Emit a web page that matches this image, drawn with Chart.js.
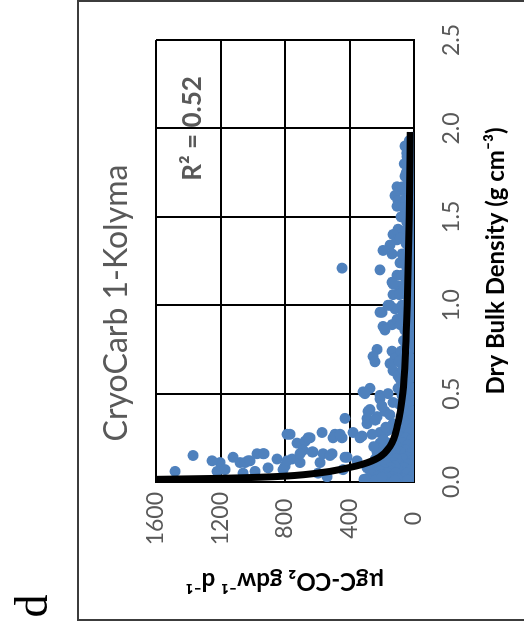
<!DOCTYPE html>
<html>
<head>
<meta charset="utf-8">
<title>CryoCarb 1-Kolyma</title>
<script src="https://cdn.jsdelivr.net/npm/chart.js@4.4.1/dist/chart.umd.min.js"></script>
<style>
  html, body { margin: 0; padding: 0; background: #fff; overflow: hidden; }
  /* panel is laid out landscape, then turned a quarter turn to the left */
  #panel {
    position: absolute; left: 0; top: 0;
    width: 633px; height: 524px;
    transform-origin: 0 0;
    transform: translate(0, 633px) rotate(-90deg);
  }
</style>
</head>
<body>
<div id="panel"><canvas id="grafico" width="633" height="524"></canvas></div>
<script>
// samples: dry bulk density (g cm-3)
const bulkDensity = [
  // scattered upper samples
  1.90, 1.91, 1.84, 1.78, 1.73, 1.67, 1.65, 1.62, 1.59, 1.56,
  1.56, 1.52, 1.43, 1.40, 1.37, 1.34, 1.31, 1.29, 1.29, 1.24,
  1.20, 1.17, 1.13, 1.11, 1.06, 1.07, 1.21, 1.12,
  // middle
  1.00, 0.96, 0.98, 1.00, 0.89, 0.88, 0.92, 0.96, 1.00, 0.86,
  0.75, 0.71, 0.68, 0.74, 0.70, 0.67, 0.63, 0.60, 0.51, 0.53,
  0.49, 0.50, 0.53, 0.47, 0.41, 0.36, 0.36,
  // low density spread
  0.28, 0.27, 0.22, 0.23, 0.25, 0.27, 0.25, 0.28, 0.26, 0.28,
  0.22, 0.18, 0.17, 0.16, 0.14, 0.12, 0.13, 0.13, 0.16, 0.16,
  0.12, 0.11, 0.14, 0.11, 0.12, 0.15, 0.06, 0.06, 0.06, 0.08,
  0.09, 0.11, 0.11, 0.03, 0.03, 0.01, 0.01, 0.03, 0.07, 0.11,
  0.12, 0.16, 0.05, 0.27, 0.12, 0.25, 0.25, 0.27, 0.25, 0.33,
  0.40, 0.37, 0.50, 0.16, 0.17, 0.16, 0.15, 0.14, 0.07, 0.05,
  0.07, 0.08, 0.03, 0.01, 0.03, 0.08, 0.14, 0.19, 0.23, 0.29,
  0.35, 0.33, 0.29, 0.22, 0.16, 0.14,
  // close to zero respiration
  1.95, 1.93, 1.92, 1.89, 1.87, 1.86, 1.83, 1.81, 1.80, 1.78,
  1.76, 1.75, 1.72, 1.70, 1.69, 1.67, 1.66, 1.64, 1.62, 1.61,
  1.60, 1.58, 1.57, 1.55, 1.54, 1.53, 1.51, 1.50, 1.48, 1.47,
  1.46, 1.44, 1.42, 1.41, 1.39, 1.38, 1.36, 1.35, 1.33, 1.32,
  1.30, 1.28, 1.27, 1.26, 1.24, 1.23, 1.21, 1.20, 1.18, 1.17,
  1.15, 1.14, 1.12, 1.11, 1.09, 1.08, 1.06, 1.05, 1.03, 1.02,
  1.00, 0.98, 0.97, 0.95, 0.94, 0.92, 0.91, 0.89, 0.88, 0.86,
  0.85, 0.83, 0.82, 0.80, 0.79, 0.77, 0.76, 0.74, 0.73, 0.71,
  0.70, 0.68, 0.67, 0.65, 0.64, 0.62, 0.61, 0.59, 0.58, 0.56,
  0.55, 0.53, 0.52, 0.50, 0.49, 0.47, 0.46, 0.44, 0.43, 0.41,
  0.40, 0.38, 0.37, 0.35, 0.34, 0.32, 0.31, 0.29, 0.28, 0.26,
  0.25, 0.24, 0.22, 0.21, 0.20, 0.19, 0.18, 0.17, 0.16, 0.15,
  0.14, 0.13, 0.12, 0.11, 0.10, 0.09, 0.08, 0.07, 0.06, 0.05,
  0.04, 0.03, 0.02, 0.01,
  // dense low density cluster
  0.22, 0.21, 0.20, 0.19, 0.18, 0.17, 0.16, 0.15, 0.14, 0.13,
  0.13, 0.12, 0.11, 0.11, 0.10, 0.10, 0.09, 0.09, 0.08, 0.08,
  0.07, 0.07, 0.06, 0.06, 0.05, 0.05, 0.05, 0.04, 0.04, 0.03,
  0.03, 0.03, 0.02, 0.02, 0.02, 0.01, 0.01, 0.01, 0.015, 0.025,
  0.40, 0.38, 0.43, 0.31, 0.35, 0.45, 0.30, 0.27, 0.24, 0.20
];

// samples: respiration (µgC-CO2 gdw-1 d-1)
const respiration = [
  56, 25, 43, 37, 56, 105, 87, 118, 99, 105,
  74, 43, 99, 130, 105, 149, 192, 136, 74, 87,
  211, 105, 136, 99, 130, 74, 446, 130,

  149, 198, 118, 74, 136, 192, 105, 211, 161, 180,
  229, 254, 242, 136, 118, 149, 130, 99, 316, 273,
  211, 161, 99, 211, 273, 291, 428,

  570, 769, 725, 676, 645, 490, 446, 378, 322, 211,
  161, 688, 626, 508, 428, 353, 756, 849, 936, 973,
  1029, 1079, 1122, 1203, 1252, 1370, 1482, 1221, 986, 905,
  800, 707, 583, 539, 254, 273, 130, 87, 1172, 1048,
  1017, 930, 1060, 787, 787, 657, 502, 459, 335, 291,
  285, 229, 304, 707, 632, 564, 521, 415, 812, 595,
  440, 291, 260, 211, 37, 149, 87, 43, 105, 25,
  68, 130, 167, 211, 167, 229,

  12, 30, 8, 20, 5, 45, 15, 28, 60, 10,
  22, 48, 6, 35, 18, 70, 12, 40, 25, 8,
  55, 30, 15, 62, 5, 38, 20, 80, 10, 45,
  28, 6, 58, 18, 35, 85, 12, 50, 25, 8,
  40, 65, 15, 30, 5, 55, 20, 42, 10, 75,
  28, 48, 6, 35, 60, 18, 90, 40, 12, 25,
  55, 8, 38, 70, 20, 45, 10, 85, 30, 58,
  15, 42, 5, 65, 25, 50, 12, 80, 35, 60,
  18, 95, 40, 8, 70, 28, 50, 15, 85, 38,
  62, 10, 45, 25, 75, 55, 15, 90, 35, 65,
  10, 48, 80, 22, 58, 40, 8, 72, 30, 95,
  50, 15, 68, 38, 110, 10, 55, 85, 25, 120,
  45, 70, 15, 100, 35, 140, 60, 20, 90, 45,
  130, 10, 75, 40,

  130, 180, 150, 200, 120, 230, 140, 190, 160, 240,
  110, 175, 210, 130, 250, 165, 190, 120, 230, 145,
  270, 185, 210, 140, 240, 170, 115, 200, 260, 180,
  135, 225, 160, 290, 105, 190, 240, 120, 310, 200,
  180, 150, 200, 175, 240, 130, 120, 260, 190, 250
];

// power trend line read along its length
const fitDensity = [0.015, 0.02, 0.03, 0.05, 0.08, 0.10, 0.14, 0.20, 0.33, 0.50, 0.75, 1.00, 1.50, 1.98];
const fitRespiration = [1600, 1250, 870, 600, 410, 320, 215, 150, 100, 70, 52, 42, 30, 23];

const densityTicks = [0, 0.5, 1.0, 1.5, 2.0, 2.5];
const respirationTicks = [0, 400, 800, 1200, 1600];

const tituloPainel = "CryoCarb 1-Kolyma";
const rQuadrado = "R² = 0.52";
const letraPainel = "d";

if (bulkDensity.length !== respiration.length) {
  console.warn("amostras desalinhadas", bulkDensity.length, respiration.length);
}

const amostras = bulkDensity.map((d, i) => ({ x: d, y: respiration[i] }));
const tendencia = fitDensity.map((d, i) => ({ x: d, y: fitRespiration[i] }));

// moldura, título do painel, R² e letra do painel
const extras = {
  id: "extras",
  beforeDraw(chart) {
    const ctx = chart.ctx;
    ctx.save();
    ctx.fillStyle = "#fff";
    ctx.fillRect(0, 0, chart.width, chart.height);
    ctx.strokeStyle = "#3c3c3c";
    ctx.lineWidth = 2;
    ctx.strokeRect(13, 78, 619, 480);
    ctx.restore();
  },
  afterDraw(chart) {
    const { ctx, scales } = chart;
    ctx.save();
    ctx.fillStyle = "#595959";
    ctx.textAlign = "center";
    ctx.textBaseline = "alphabetic";
    ctx.font = "32px Lato";
    ctx.fillText(tituloPainel, 330, 127);

    ctx.font = "bold 26px Lato";
    ctx.textBaseline = "middle";
    ctx.fillText(rQuadrado, scales.x.getPixelForValue(2.0), scales.y.getPixelForValue(1370));

    ctx.fillStyle = "#000";
    ctx.textBaseline = "alphabetic";
    ctx.font = "46px 'Liberation Serif'";
    ctx.fillText(letraPainel, 27, 47);
    ctx.restore();
  }
};

Chart.defaults.font.family = "Lato";

new Chart(document.getElementById("grafico"), {
  type: "scatter",
  data: {
    datasets: [
      {
        type: "line",
        data: tendencia,
        borderColor: "#000",
        borderWidth: 7,
        pointRadius: 0,
        cubicInterpolationMode: "monotone",
        order: 0
      },
      {
        data: amostras,
        backgroundColor: "#4F81BD",
        borderColor: "#4F81BD",
        borderWidth: 0,
        pointRadius: 5.5,
        order: 1
      }
    ]
  },
  options: {
    responsive: false,
    animation: false,
    devicePixelRatio: 1,
    layout: { padding: { top: 156, right: 34, left: 0, bottom: 0 } },
    plugins: { legend: { display: false }, tooltip: { enabled: false } },
    scales: {
      x: {
        type: "linear",
        min: 0,
        max: 2.5,
        afterBuildTicks: s => { s.ticks = densityTicks.map(v => ({ value: v })); },
        afterFit: s => { s.height = 110; },
        grid: { color: "#000", lineWidth: 2, drawTicks: false },
        border: { color: "#000", width: 2 },
        ticks: {
          color: "#595959",
          font: { size: 23 },
          padding: 24,
          callback: v => Number(v).toFixed(1)
        },
        title: {
          display: true,
          text: "Dry Bulk Density (g cm⁻³)",
          color: "#000",
          font: { size: 24, weight: "bold" },
          padding: { top: 0, bottom: 13 }
        }
      },
      y: {
        type: "linear",
        min: 0,
        max: 1600,
        afterBuildTicks: s => { s.ticks = respirationTicks.map(v => ({ value: v })); },
        afterFit: s => { s.width = 151; },
        grid: { color: "#000", lineWidth: 2, drawTicks: false },
        border: { color: "#000", width: 2 },
        ticks: {
          color: "#595959",
          font: { size: 23 },
          padding: 10,
          crossAlign: "center",
          callback: v => String(v)
        },
        title: {
          display: true,
          text: "µgC-CO₂ gdw⁻¹ d⁻¹",
          color: "#000",
          font: { size: 24, weight: "bold" },
          padding: { top: 38, bottom: 0 }
        }
      }
    }
  },
  plugins: [extras]
});
</script>
</body>
</html>
